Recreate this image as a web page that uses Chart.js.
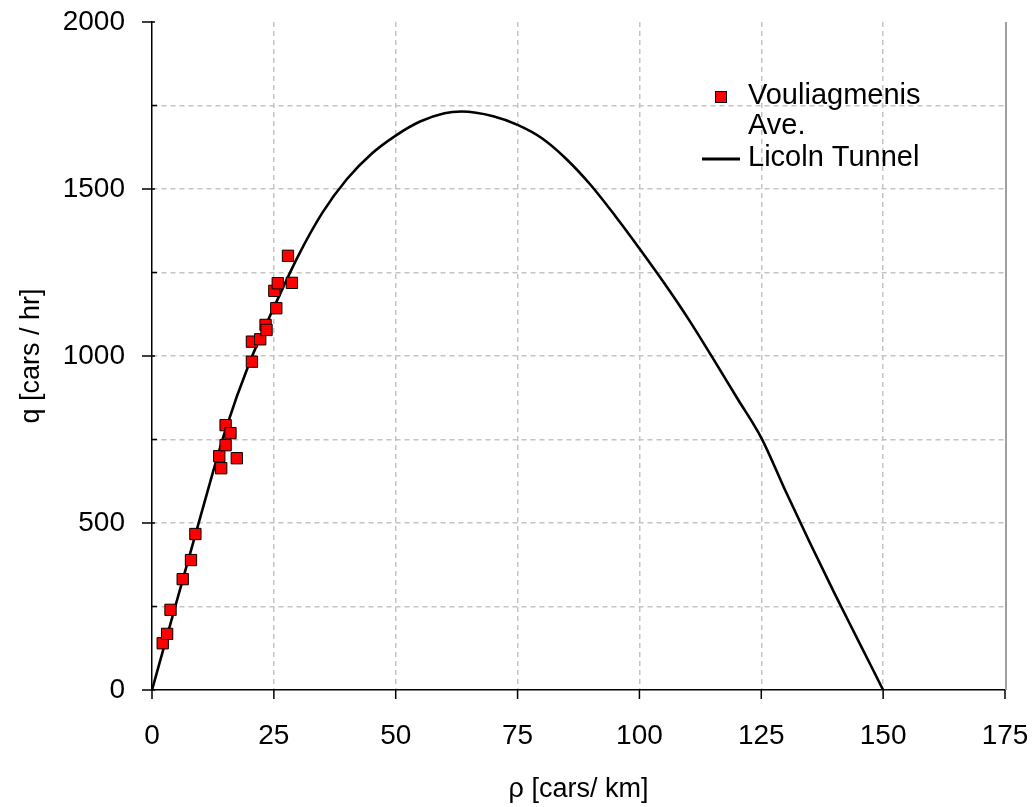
<!DOCTYPE html>
<html>
<head>
<meta charset="utf-8">
<script src="https://cdn.jsdelivr.net/npm/chart.js@4/dist/chart.umd.min.js"></script>
<style>
  html, body { margin: 0; padding: 0; background: #ffffff; }
  canvas { display: block; }
</style>
</head>
<body>
<canvas id="chart" width="1032" height="807" style="width:1032px;height:807px"></canvas>
<script>
// ---------- DATA ----------
const seriesLabels = ['Vouliagmenis Ave.', 'Licoln Tunnel'];
const axisTitleX = 'ρ [cars/ km]';
const axisTitleY = 'q [cars / hr]';

const xTickValues = [0, 25, 50, 75, 100, 125, 150, 175];
const yGridValues = [0, 250, 500, 750, 1000, 1250, 1500, 1750, 2000];
const yLabelValues = [0, 500, 1000, 1500, 2000];

// Vouliagmenis Ave. observations (density, flow)
const vouliagmenisDensity = [2.2, 3.1, 3.8, 6.3, 8.0, 8.9, 13.8, 14.2, 15.1, 15.1, 16.1, 17.4, 20.5, 20.5, 22.2, 23.3, 23.5, 25.5, 25.1, 25.8, 28.7, 27.9];
const vouliagmenisFlow    = [140, 168, 240, 332, 389, 467, 700, 664, 733, 793, 769, 694, 983, 1043, 1050, 1093, 1078, 1143, 1195, 1218, 1219, 1300];

// Lincoln Tunnel curve (density, flow)
const lincolnDensity = [0, 5, 10, 15, 20, 25, 30, 35, 40, 45, 50, 55, 60, 63.5, 70, 75, 80, 85, 90, 95, 100, 105, 110, 115, 120, 125, 130, 135, 140, 145, 150];
const lincolnFlow    = [0, 262, 522, 775, 980, 1145, 1300, 1430, 1530, 1605, 1660, 1702, 1727, 1732, 1718, 1692, 1652, 1590, 1512, 1420, 1322, 1220, 1112, 995, 875, 755, 595, 440, 290, 145, 0];

// ---------- STYLE ----------
const FONT = '"Liberation Sans", Arial, sans-serif';
const markerFill = '#ff0000';
const gridColor = '#c4c4c4';

const zip = (xs, ys) => xs.map((x, i) => ({ x: x, y: ys[i] }));

const noPad = s => { s.paddingTop = 0; s.paddingBottom = 0; s.paddingLeft = 0; s.paddingRight = 0; };

// Custom tick marks, right border and legend
const decorations = {
  id: 'decorations',
  afterDraw(chart) {
    const { ctx, chartArea: a, scales: { x, y } } = chart;
    ctx.save();
    ctx.strokeStyle = '#000';
    ctx.lineWidth = 1.5;
    ctx.beginPath();
    xTickValues.forEach(v => {
      const px = x.getPixelForValue(v);
      ctx.moveTo(px, a.bottom);
      ctx.lineTo(px, a.bottom + 9);
    });
    yGridValues.forEach(v => {
      const py = y.getPixelForValue(v);
      if (yLabelValues.includes(v)) {
        ctx.moveTo(a.left - 10, py);
        ctx.lineTo(a.left + 3, py);
      } else {
        ctx.moveTo(a.left, py);
        ctx.lineTo(a.left + 5, py);
      }
    });
    ctx.stroke();

    // right border
    ctx.strokeStyle = '#a0a0a0';
    ctx.lineWidth = 2;
    ctx.beginPath();
    ctx.moveTo(a.right + 1, a.top);
    ctx.lineTo(a.right + 1, a.bottom);
    ctx.stroke();

    // legend
    const lx = 748;
    ctx.font = '29px ' + FONT;
    ctx.textBaseline = 'middle';
    ctx.textAlign = 'left';
    const words = seriesLabels[0].split(' ');
    ctx.fillStyle = markerFill;
    ctx.fillRect(715.5, 91.5, 11, 11);
    ctx.strokeStyle = '#000';
    ctx.lineWidth = 1;
    ctx.strokeRect(715.5, 91.5, 11, 11);
    ctx.fillStyle = '#000';
    ctx.fillText(words[0], lx, 96);
    ctx.fillText(words.slice(1).join(' '), lx, 126);
    ctx.lineWidth = 3;
    ctx.beginPath();
    ctx.moveTo(702, 159);
    ctx.lineTo(740, 159);
    ctx.stroke();
    ctx.fillText(seriesLabels[1], lx, 158);
    ctx.restore();
  }
};

const edgeColor = (ctx, lo, hi) => (ctx.tick && (ctx.tick.value === lo || ctx.tick.value === hi)) ? 'rgba(0,0,0,0)' : gridColor;

new Chart(document.getElementById('chart'), {
  type: 'scatter',
  data: {
    datasets: [
      {
        label: seriesLabels[0],
        data: zip(vouliagmenisDensity, vouliagmenisFlow),
        pointStyle: 'rect',
        pointRadius: 8,
        pointBackgroundColor: markerFill,
        pointBorderColor: '#000',
        pointBorderWidth: 1,
        showLine: false
      },
      {
        label: seriesLabels[1],
        type: 'line',
        data: zip(lincolnDensity, lincolnFlow),
        borderColor: '#000',
        borderWidth: 2.6,
        pointRadius: 0,
        fill: false,
        cubicInterpolationMode: 'monotone'
      }
    ]
  },
  options: {
    responsive: false,
    devicePixelRatio: 1,
    animation: false,
    layout: { padding: { top: 22, right: 27, left: 0, bottom: 0 } },
    plugins: {
      legend: { display: false },
      tooltip: { enabled: false }
    },
    scales: {
      x: {
        type: 'linear',
        min: 0,
        max: 175,
        afterBuildTicks: s => { s.ticks = xTickValues.map(v => ({ value: v })); },
        afterFit: s => { s.height = 117; noPad(s); },
        ticks: {
          color: '#000',
          font: { family: FONT, size: 28 },
          padding: 29,
          maxRotation: 0,
          autoSkip: false
        },
        grid: {
          color: c => edgeColor(c, 0, 175),
          lineWidth: 1.5,
          drawTicks: false
        },
        border: { display: true, color: '#000', width: 1.5, dash: [5, 4] },
        title: {
          display: true,
          text: axisTitleX,
          color: '#000',
          font: { family: FONT, size: 27 },
          padding: { top: 0, bottom: 1 }
        }
      },
      y: {
        type: 'linear',
        min: 0,
        max: 2000,
        afterBuildTicks: s => { s.ticks = yGridValues.map(v => ({ value: v })); },
        afterFit: s => { s.width = 152; noPad(s); },
        ticks: {
          color: '#000',
          font: { family: FONT, size: 28 },
          padding: 27,
          autoSkip: false,
          callback: v => yLabelValues.includes(v) ? String(v) : ''
        },
        grid: {
          color: c => edgeColor(c, 0, 2000),
          lineWidth: 1.5,
          drawTicks: false
        },
        border: { display: true, color: '#000', width: 1.5, dash: [5, 4] },
        title: {
          display: true,
          text: axisTitleY,
          color: '#000',
          font: { family: FONT, size: 27 },
          padding: { top: 15, bottom: 0 }
        }
      }
    }
  },
  plugins: [decorations]
});
</script>
</body>
</html>
